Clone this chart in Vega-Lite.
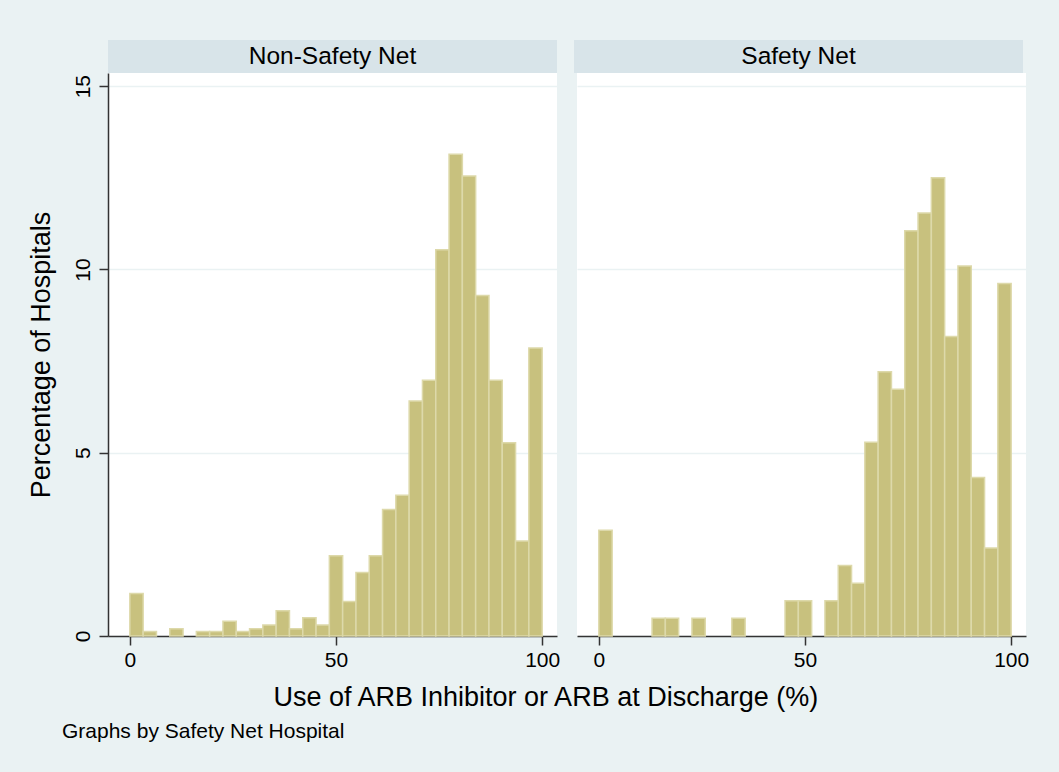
{
  "$schema": "https://vega.github.io/schema/vega-lite/v6.json",
  "background": "#EAF2F3",
  "padding": {"left": 27, "top": 40, "right": 36, "bottom": 30},
  "autosize": {"type": "pad"},
  "config": {
    "font": "Liberation Sans",
    "view": {"stroke": null},
    "axis": {"labelColor": "black", "titleColor": "black", "titleFontWeight": "normal"}
  },
  "datasets": {
    "panels": [{"group": "Non-Safety Net"}, {"group": "Safety Net"}],
    "bars": [
      {"group": "Non-Safety Net", "lo": 0, "hi": 3.226, "pct": 1.16},
      {"group": "Non-Safety Net", "lo": 3.226, "hi": 6.452, "pct": 0.12},
      {"group": "Non-Safety Net", "lo": 9.677, "hi": 12.903, "pct": 0.2},
      {"group": "Non-Safety Net", "lo": 16.129, "hi": 19.355, "pct": 0.12},
      {"group": "Non-Safety Net", "lo": 19.355, "hi": 22.581, "pct": 0.12},
      {"group": "Non-Safety Net", "lo": 22.581, "hi": 25.806, "pct": 0.4},
      {"group": "Non-Safety Net", "lo": 25.806, "hi": 29.032, "pct": 0.12},
      {"group": "Non-Safety Net", "lo": 29.032, "hi": 32.258, "pct": 0.2},
      {"group": "Non-Safety Net", "lo": 32.258, "hi": 35.484, "pct": 0.3},
      {"group": "Non-Safety Net", "lo": 35.484, "hi": 38.71, "pct": 0.69},
      {"group": "Non-Safety Net", "lo": 38.71, "hi": 41.935, "pct": 0.2},
      {"group": "Non-Safety Net", "lo": 41.935, "hi": 45.161, "pct": 0.5},
      {"group": "Non-Safety Net", "lo": 45.161, "hi": 48.387, "pct": 0.3},
      {"group": "Non-Safety Net", "lo": 48.387, "hi": 51.613, "pct": 2.19},
      {"group": "Non-Safety Net", "lo": 51.613, "hi": 54.839, "pct": 0.94},
      {"group": "Non-Safety Net", "lo": 54.839, "hi": 58.065, "pct": 1.73},
      {"group": "Non-Safety Net", "lo": 58.065, "hi": 61.29, "pct": 2.19},
      {"group": "Non-Safety Net", "lo": 61.29, "hi": 64.516, "pct": 3.45},
      {"group": "Non-Safety Net", "lo": 64.516, "hi": 67.742, "pct": 3.84},
      {"group": "Non-Safety Net", "lo": 67.742, "hi": 70.968, "pct": 6.41},
      {"group": "Non-Safety Net", "lo": 70.968, "hi": 74.194, "pct": 6.98},
      {"group": "Non-Safety Net", "lo": 74.194, "hi": 77.419, "pct": 10.54},
      {"group": "Non-Safety Net", "lo": 77.419, "hi": 80.645, "pct": 13.14},
      {"group": "Non-Safety Net", "lo": 80.645, "hi": 83.871, "pct": 12.55},
      {"group": "Non-Safety Net", "lo": 83.871, "hi": 87.097, "pct": 9.29},
      {"group": "Non-Safety Net", "lo": 87.097, "hi": 90.323, "pct": 6.98},
      {"group": "Non-Safety Net", "lo": 90.323, "hi": 93.548, "pct": 5.27},
      {"group": "Non-Safety Net", "lo": 93.548, "hi": 96.774, "pct": 2.59},
      {"group": "Non-Safety Net", "lo": 96.774, "hi": 100, "pct": 7.86},
      {"group": "Safety Net", "lo": 0, "hi": 3.226, "pct": 2.885},
      {"group": "Safety Net", "lo": 12.903, "hi": 16.129, "pct": 0.481},
      {"group": "Safety Net", "lo": 16.129, "hi": 19.355, "pct": 0.481},
      {"group": "Safety Net", "lo": 22.581, "hi": 25.806, "pct": 0.481},
      {"group": "Safety Net", "lo": 32.258, "hi": 35.484, "pct": 0.481},
      {"group": "Safety Net", "lo": 45.161, "hi": 48.387, "pct": 0.962},
      {"group": "Safety Net", "lo": 48.387, "hi": 51.613, "pct": 0.962},
      {"group": "Safety Net", "lo": 54.839, "hi": 58.065, "pct": 0.962},
      {"group": "Safety Net", "lo": 58.065, "hi": 61.29, "pct": 1.923},
      {"group": "Safety Net", "lo": 61.29, "hi": 64.516, "pct": 1.442},
      {"group": "Safety Net", "lo": 64.516, "hi": 67.742, "pct": 5.288},
      {"group": "Safety Net", "lo": 67.742, "hi": 70.968, "pct": 7.212},
      {"group": "Safety Net", "lo": 70.968, "hi": 74.194, "pct": 6.731},
      {"group": "Safety Net", "lo": 74.194, "hi": 77.419, "pct": 11.058},
      {"group": "Safety Net", "lo": 77.419, "hi": 80.645, "pct": 11.538},
      {"group": "Safety Net", "lo": 80.645, "hi": 83.871, "pct": 12.5},
      {"group": "Safety Net", "lo": 83.871, "hi": 87.097, "pct": 8.173},
      {"group": "Safety Net", "lo": 87.097, "hi": 90.323, "pct": 10.096},
      {"group": "Safety Net", "lo": 90.323, "hi": 93.548, "pct": 4.327},
      {"group": "Safety Net", "lo": 93.548, "hi": 96.774, "pct": 2.404},
      {"group": "Safety Net", "lo": 96.774, "hi": 100, "pct": 9.615}
    ]
  },
  "title": {
    "text": "Graphs by Safety Net Hospital",
    "orient": "bottom",
    "anchor": "start",
    "frame": "bounds",
    "fontSize": 21,
    "fontWeight": "normal",
    "color": "black",
    "offset": 10,
    "dx": 35
  },
  "spacing": 0,
  "vconcat": [
    {
      "spacing": 17,
      "hconcat": [
        {
          "width": 449,
          "height": 33,
          "view": {"fill": "#D8E4E9", "stroke": null},
          "data": {"name": "panels"},
          "transform": [{"filter": "datum.group === 'Non-Safety Net'"}],
          "mark": {"type": "text", "fontSize": 24.5, "color": "black", "baseline": "middle", "align": "center"},
          "encoding": {"text": {"field": "group"}}
        },
        {
          "width": 449,
          "height": 33,
          "view": {"fill": "#D8E4E9", "stroke": null},
          "data": {"name": "panels"},
          "transform": [{"filter": "datum.group === 'Safety Net'"}],
          "mark": {"type": "text", "fontSize": 24.5, "color": "black", "baseline": "middle", "align": "center"},
          "encoding": {"text": {"field": "group"}}
        }
      ]
    },
    {
      "spacing": 17,
      "title": {
        "text": "Use of ARB Inhibitor or ARB at Discharge (%)",
        "orient": "bottom",
        "anchor": "middle",
        "frame": "bounds",
        "fontSize": 27,
        "fontWeight": "normal",
        "color": "black",
        "offset": 15,
        "dx": 18
      },
      "hconcat": [
        {
          "width": 449,
          "height": 563,
          "view": {"fill": "white", "stroke": null},
          "data": {"name": "bars"},
          "transform": [{"filter": "datum.group === 'Non-Safety Net'"}],
          "mark": {"type": "bar", "fill": "#C8C17E", "stroke": "#DDD9AA", "strokeWidth": 1.5},
          "encoding": {
            "x": {
              "field": "lo", "type": "quantitative",
              "scale": {"domain": [-5.3, 103.6], "nice": false, "zero": false},
              "axis": {"values": [0, 50, 100], "title": null, "grid": false, "domainColor": "#333333", "domainWidth": 1.5, "tickColor": "#333333", "tickWidth": 1.5, "tickSize": 9, "labelFontSize": 21, "labelPadding": 4, "labelFlush": false}
            },
            "x2": {"field": "hi"},
            "y": {
              "field": "pct", "type": "quantitative",
              "scale": {"domain": [0, 15.36], "nice": false},
              "axis": {"values": [0, 5, 10, 15], "title": "Percentage of Hospitals", "titleFontSize": 27, "titlePadding": 17, "grid": true, "gridColor": "#EAF2F3", "gridWidth": 1.5, "domainColor": "#333333", "domainWidth": 1.5, "tickColor": "#333333", "tickWidth": 1.5, "tickSize": 9, "labelFontSize": 21, "labelAngle": 270, "labelAlign": "center", "labelBaseline": "bottom", "labelPadding": 6}
            },
            "y2": {"datum": 0}
          }
        },
        {
          "width": 449,
          "height": 563,
          "view": {"fill": "white", "stroke": null},
          "data": {"name": "bars"},
          "transform": [{"filter": "datum.group === 'Safety Net'"}],
          "mark": {"type": "bar", "fill": "#C8C17E", "stroke": "#DDD9AA", "strokeWidth": 1.5},
          "encoding": {
            "x": {
              "field": "lo", "type": "quantitative",
              "scale": {"domain": [-5.3, 103.6], "nice": false, "zero": false},
              "axis": {"values": [0, 50, 100], "title": null, "grid": false, "domainColor": "#333333", "domainWidth": 1.5, "tickColor": "#333333", "tickWidth": 1.5, "tickSize": 9, "labelFontSize": 21, "labelPadding": 4, "labelFlush": false}
            },
            "x2": {"field": "hi"},
            "y": {
              "field": "pct", "type": "quantitative",
              "scale": {"domain": [0, 15.36], "nice": false},
              "axis": {"values": [0, 5, 10, 15], "title": null, "grid": true, "gridColor": "#EAF2F3", "gridWidth": 1.5, "domain": false, "ticks": false, "labels": false}
            },
            "y2": {"datum": 0}
          }
        }
      ]
    }
  ]
}
